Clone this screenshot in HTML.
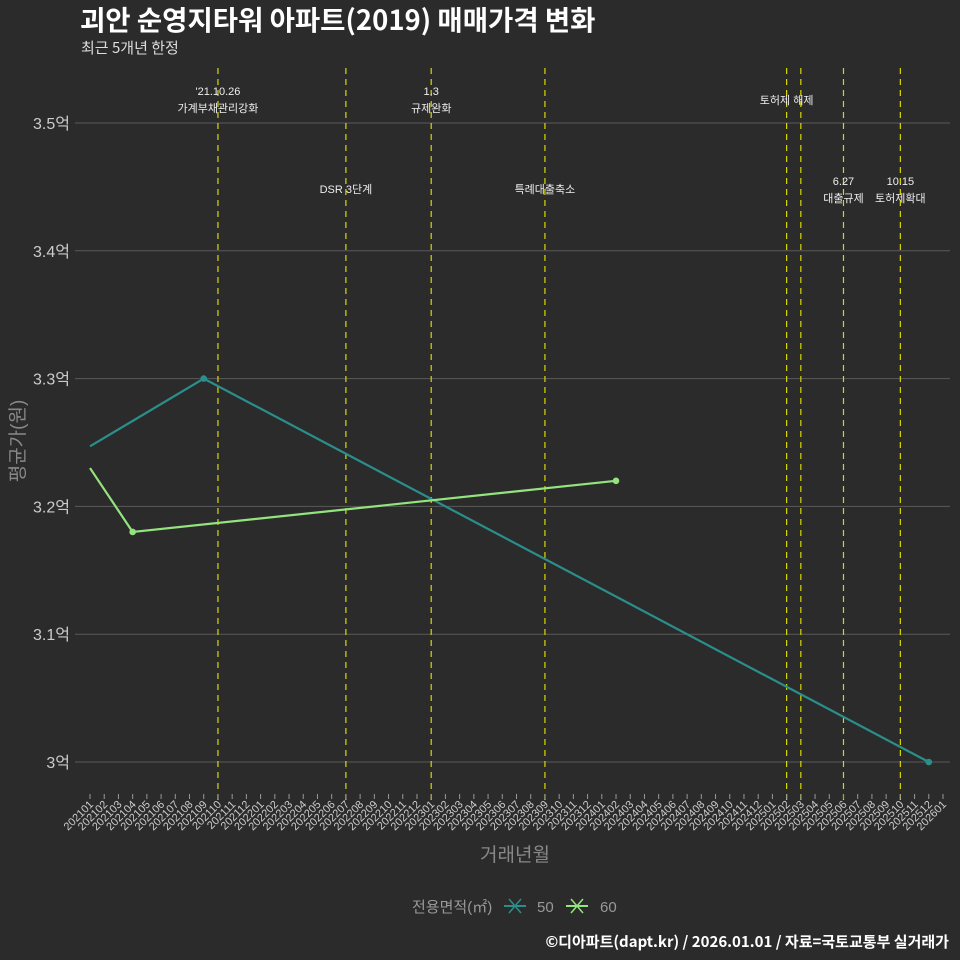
<!DOCTYPE html>
<html><head><meta charset="utf-8"><style>
html,body{margin:0;padding:0;background:#2b2b2c;}
svg{display:block;font-family:"Liberation Sans","Noto Sans CJK KR",sans-serif;}
</style></head><body>
<svg id="chart" width="960" height="960" viewBox="0 0 960 960">
<rect width="960" height="960" fill="#2b2b2c"/>
<text x="80" y="30" font-size="27.5" font-weight="bold" fill="#ffffff" style="font-family:'Noto Sans CJK KR',sans-serif">괴안 순영지타워 아파트(2019) 매매가격 변화</text>
<text x="81" y="53" font-size="15" fill="#dddddd" style="font-family:'Noto Sans CJK KR',sans-serif">최근 5개년 한정</text>
<g id="grid"></g><g id="vlines"></g><g id="series"></g><g id="xaxis"></g>
<text transform="translate(24,441) rotate(-90)" text-anchor="middle" font-size="19" fill="#888888">평균가(원)</text>
<text x="515" y="861" text-anchor="middle" font-size="19" fill="#888888">거래년월</text>
<g>
<text x="412" y="912" font-size="15" fill="#999999">전용면적(㎡)</text>
<g><line x1="504" y1="906" x2="526" y2="906" stroke="#2a8f8a" stroke-width="2"/><line x1="509" y1="899" x2="521" y2="913" stroke="#2a8f8a" stroke-width="1.5"/><line x1="509" y1="913" x2="521" y2="899" stroke="#2a8f8a" stroke-width="1.5"/><text x="537" y="912" font-size="15" fill="#999999">50</text></g>
<g><line x1="566" y1="906" x2="588" y2="906" stroke="#94e47e" stroke-width="2"/><line x1="571" y1="899" x2="583" y2="913" stroke="#94e47e" stroke-width="1.5"/><line x1="571" y1="913" x2="583" y2="899" stroke="#94e47e" stroke-width="1.5"/><text x="600" y="912" font-size="15" fill="#999999">60</text></g>
</g>
<text x="949" y="947" text-anchor="end" font-size="15" font-weight="bold" fill="#ffffff" style="font-family:'Noto Sans CJK KR',sans-serif">©디아파트(dapt.kr) / 2026.01.01 / 자료=국토교통부 실거래가</text>
</svg>
<script>
const months=[];for(let y=2021;y<=2026;y++)for(let m=1;m<=12;m++){if(y===2026&&m>1)break;months.push(''+y+(m<10?'0':'')+m);}
const yTicks=[3.0,3.1,3.2,3.3,3.4,3.5];
const yTickLabels=['3억','3.1억','3.2억','3.3억','3.4억','3.5억'];
const s50Months=['202101','202109','202512'];
const s50Values=[3.247,3.30,3.00];
const s50Dots=[false,true,true];
const s60Months=['202101','202104','202402'];
const s60Values=[3.23,3.18,3.22];
const s60Dots=[false,true,true];
const eventMonths=['202110','202207','202301','202309','202502','202503','202506','202510'];
const annMonths=['202110','202301','202207','202309','202502','202506','202510'];
const annLine1=["'21.10.26",'1.3','','','','6.27','10.15'];
const annLine2=['가계부채관리강화','규제완화','DSR 3단계','특례대출축소','토허제 해제','대출규제','토허제확대'];
const annY=[95,95,193,193,104,185,185];
const NS='http://www.w3.org/2000/svg';
const X0=90,X1=943,YB=762,YT=123;
const xs=m=>X0+(months.indexOf(m))*(X1-X0)/(months.length-1);
const ys=v=>YB-(v-3.0)/0.5*(YB-YT);
function mk(t,a,p){const e=document.createElementNS(NS,t);for(const k in a)e.setAttribute(k,a[k]);p.appendChild(e);return e;}
const grid=document.getElementById('grid');
yTicks.forEach((v,i)=>{
 const l=mk('line',{x1:75,x2:950,y1:ys(v),y2:ys(v),stroke:'#5a5a5a','stroke-width':1},grid);
 
 
 const t=mk('text',{x:70,y:ys(v)+6,'text-anchor':'end','font-size':16,fill:'#cccccc'},grid);t.textContent=yTickLabels[i];
 
 
});
const vl=document.getElementById('vlines');
eventMonths.forEach(m=>{
 const l=mk('line',{x1:xs(m),x2:xs(m),y1:68,y2:800,stroke:'#d8d800','stroke-width':1.2,'stroke-dasharray':'6,5'},vl);
 
 
});
annMonths.forEach((m,i)=>{
 const x=xs(m);
 if(annLine1[i]){const t=mk('text',{x:x,y:annY[i],'text-anchor':'middle','font-size':11,fill:'#eeeeee'},vl);t.textContent=annLine1[i];
  
  }
 const y2=annLine1[i]?annY[i]+17:annY[i];
 const t2=mk('text',{x:x,y:y2,'text-anchor':'middle','font-size':11,fill:'#eeeeee'},vl);t2.textContent=annLine2[i];
 
 
});
const sg=document.getElementById('series');
function series(ms,vs,dots,col,name){
 const p=mk('polyline',{points:ms.map((m,i)=>xs(m)+','+ys(vs[i])).join(' '),fill:'none',stroke:col,'stroke-width':2.2},sg);
 
 
 ms.forEach((m,i)=>{if(!dots[i])return;
  const c=mk('circle',{cx:xs(m),cy:ys(vs[i]),r:3.3,fill:col},sg);
  
  });
}
series(s50Months,s50Values,s50Dots,'#2a8f8a','series-50');
series(s60Months,s60Values,s60Dots,'#94e47e','series-60');
const xa=document.getElementById('xaxis');
months.forEach(m=>{
 const x=xs(m);
 const l=mk('line',{x1:x,x2:x,y1:794,y2:799,stroke:'#999999','stroke-width':1},xa);
 
 
 const t=mk('text',{transform:'translate('+(x+4)+',805) rotate(-45)','text-anchor':'end','font-size':11,fill:'#cccccc'},xa);t.textContent=m;
 
 
});
</script>
</body></html>
